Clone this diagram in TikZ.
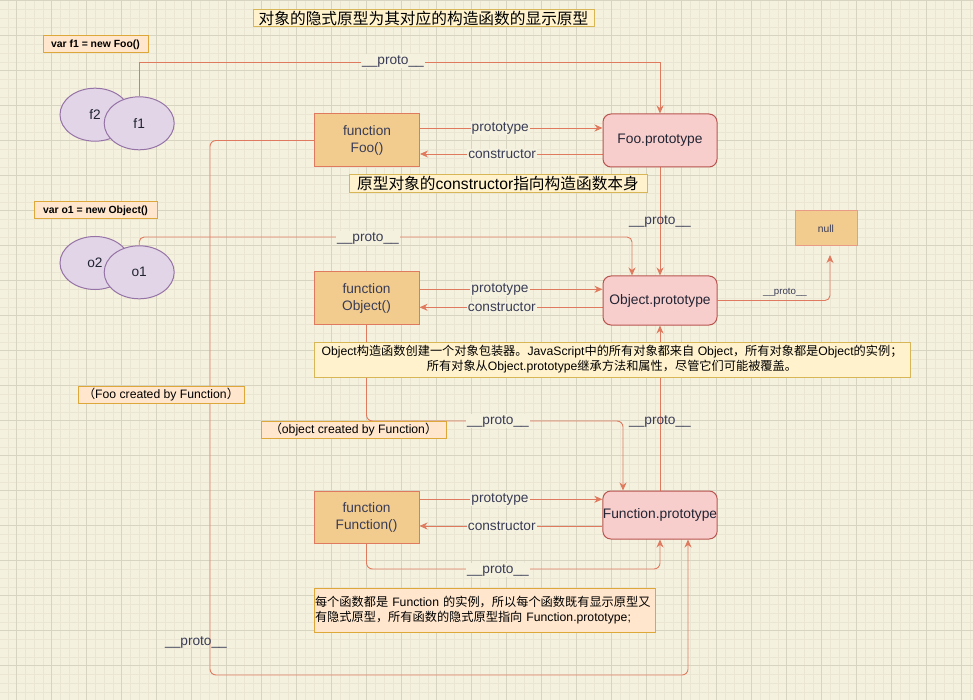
\documentclass[tikz,border=0pt]{standalone}
\usepackage{fontspec}
\setmainfont{Liberation Sans}
\newfontfamily\cjk{Noto Sans CJK SC}
\usetikzlibrary{arrows.meta,calc,shapes.geometric}
\definecolor{bg}{HTML}{F4F1DE}
\definecolor{gminor}{HTML}{EAE6D3}
\definecolor{gmajor}{HTML}{D8D4C2}
\definecolor{ln}{HTML}{E07A5F}
\definecolor{fnfill}{HTML}{F2CC8F}
\definecolor{pfill}{HTML}{F8CECC}
\definecolor{pdraw}{HTML}{B85450}
\definecolor{efill}{HTML}{E1D5E7}
\definecolor{edraw}{HTML}{9673A6}
\definecolor{yfill}{HTML}{FFF2CC}
\definecolor{ydraw}{HTML}{D6B656}
\definecolor{ofill}{HTML}{FFE6CC}
\definecolor{odraw}{HTML}{DDA73A}
\definecolor{txt}{HTML}{393C56}
\newcommand\zh[1]{{\cjk #1}}
\newcommand\fsz[2]{\fontsize{#1}{#2}\selectfont}
\pgfdeclarelayer{bgl}
\pgfdeclarelayer{edl}
\pgfsetlayers{bgl,edl,main}
\begin{document}
\begin{tikzpicture}[x=1pt,y=-1pt,
  edge/.style={draw=ln, line width=0.9pt, -{Stealth[length=8pt,width=7pt,inset=2.5pt]}},
  elab/.style={fill=bg, text=txt, font=\fsz{13.7}{16}, inner sep=1pt},
  elabnb/.style={text=txt, font=\fsz{13.7}{16}, inner sep=1pt},
  fnbox/.style={rectangle, draw=ln, fill=fnfill, line width=1pt, text=txt, align=center, font=\fsz{13.7}{17}, minimum width=105, minimum height=52, inner sep=0},
  pbox/.style={rectangle, rounded corners=8pt, draw=pdraw, fill=pfill, line width=1pt, text=txt!60!black, font=\fsz{13.8}{16}, minimum width=114, inner sep=0},
  inst/.style={ellipse, draw=edraw, fill=efill, line width=1pt, minimum width=70, minimum height=53, font=\fsz{13.7}{16}, text=txt!60!black, inner sep=0},
  ynote/.style={rectangle, draw=ydraw, fill=yfill, line width=1pt, inner sep=0, text=black},
  onote/.style={rectangle, draw=odraw, fill=ofill, line width=1pt, inner sep=0, text=black},
  nullbox/.style={rectangle, draw=ln!75, fill=fnfill, line width=1pt, text=txt, font=\fsz{10.3}{12}, minimum width=62, minimum height=35, inner sep=0}
]
\useasboundingbox (0,0) rectangle (973,700);
\begin{pgfonlayer}{bgl}
\fill[bg] (0,0) rectangle (973,700);
\foreach \i in {0,...,110} \draw[gminor, line width=0.6pt] ({7.95+8.75*\i},0) -- ++(0,700);
\foreach \i in {0,...,79} \draw[gminor, line width=0.6pt] (0,{0.7+8.75*\i}) -- ++(973,0);
\foreach \i in {0,...,27} \draw[gmajor, line width=0.8pt] ({16.7+35*\i},0) -- ++(0,700);
\foreach \i in {0,...,19} \draw[gmajor, line width=0.8pt] (0,{0.7+35*\i}) -- ++(973,0);
\end{pgfonlayer}

% nodes
\node[ynote, minimum width=341, minimum height=17, font=\cjk\fsz{15.7}{17}] (title) at (423.5,18.5) {对象的隐式原型为其对应的构造函数的显示原型};
\node[onote, minimum width=105, minimum height=17, font=\bfseries\fsz{10.4}{12}] (vf) at (95.5,44.5) {var f1 = new Foo()};
\node[inst] (f2) at (95,114.7) {f2};
\node[inst] (f1) at (139.2,123.3) {f1};
\node[fnbox, minimum height=53] (fnFoo) at (367,140.5) {function\\Foo()};
\node[pbox, minimum height=53] (fooP) at (660,140.5) {Foo.prototype};
\node[ynote, minimum width=298, minimum height=18, font=\fsz{15.7}{17}] (cnote) at (498,184) {\zh{原型对象的}constructor\zh{指向构造函数本身}};
\node[onote, minimum width=123, minimum height=17, font=\bfseries\fsz{10.4}{12}] (vo) at (95.5,210.5) {var o1 = new Object()};
\node[inst] (o2) at (95,263) {o2};
\node[inst] (o1) at (139.2,272.3) {o1};
\node[nullbox] (null) at (826,228.5) {null};
\node[fnbox] (fnObject) at (366.5,298) {function\\Object()};
\node[pbox, minimum height=49] (objP) at (660,300.5) {Object.prototype};
\node[ynote, minimum width=596, minimum height=35, align=center, font=\fsz{12.2}{15}] (oinfo) at (612,359.5) {Object\zh{构造函数创建一个对象包装器。}JavaScript\zh{中的所有对象都来自} Object\zh{，所有对象都是}Object\zh{的实例；}\\\zh{所有对象从}Object.prototype\zh{继承方法和属性，尽管它们可能被覆盖。}};
\node[onote, minimum width=166, minimum height=17, font=\fsz{12.2}{14}] (fcb) at (161,394.5) {\zh{（}Foo created by Function\zh{）}};
\node[onote, minimum width=185, minimum height=17, font=\fsz{12.2}{14}] (ocb) at (353.5,429.5) {\zh{（}object created by Function\zh{）}};
\node[fnbox] (fnFunction) at (366.5,517) {function\\Function()};
\node[pbox, minimum height=48] (funP) at (660,515) {Function.prototype};
\node[onote, minimum width=341, minimum height=44, text width=339, align=left, font=\fsz{12.2}{15.5}] (finfo) at (484.5,610) {\zh{每个函数都是} Function \zh{的实例，所以每个函数既有显示原型又}\\\zh{有隐式原型，所有函数的隐式原型指向} Function.prototype;};

\coordinate (nullin) at (830,255);
\coordinate (opA) at ([xshift=-28pt]objP.north);
\coordinate (fpA) at ([xshift=-37pt]funP.north);
\coordinate (fpB) at ([xshift=28pt]funP.south);

\begin{pgfonlayer}{edl}
% f1 -> Foo.prototype
\draw[edge] (f1.north) |- (fooP.north |- 0,62) -- (fooP.north);
\node[elab] (l1) at (393,61) {\_\_proto\_\_};
% Foo
\draw[edge] (fnFoo.east |- 0,128) -- (fooP.west |- 0,128) node[elab, pos=0.44] {prototype};
\draw[edge] (fooP.west |- 0,154) -- (fnFoo.east |- 0,154) node[elab, pos=0.55] {constructor};
% Foo -> Function.prototype
\draw[edge, rounded corners=6pt] (fnFoo.west) -| (210,675) -| (fpB);
\node[elabnb] (l4) at (196,642) {\_\_proto\_\_};
% Foo.prototype -> Object.prototype
\draw[edge] (fooP.south) -- (objP.north);
\node[elabnb] (l5) at (660,221) {\_\_proto\_\_};
% o1 -> Object.prototype
\draw[edge, rounded corners=5pt] (o1.north) |- (opA |- 0,237) -- (opA);
\node[elab] (l6) at (368,238) {\_\_proto\_\_};
% Object
\draw[edge] (fnObject.east |- 0,289.3) -- (objP.west |- 0,289.3) node[elab, pos=0.44] {prototype};
\draw[edge] (objP.west |- 0,307.3) -- (fnObject.east |- 0,307.3) node[elab, pos=0.55] {constructor};
% Object.prototype -> null
\draw[edge, rounded corners=5pt] (objP.east) -| (nullin);
\node[text=txt, font=\fsz{9.7}{11}, inner sep=0] (l9) at (785,292) {\_\_proto\_\_};
% Function.prototype -> Object.prototype
\draw[edge] (funP.north) -- (objP.south);
\node[elabnb] (l10) at (660,421) {\_\_proto\_\_};
% Object -> Function.prototype
\draw[edge, rounded corners=6pt] (fnObject.south) |- (fpA |- 0,421) -- (fpA);
\node[elab] (l11) at (498,421) {\_\_proto\_\_};
% Function
\draw[edge] (fnFunction.east |- 0,499.3) -- (funP.west |- 0,499.3) node[elab, pos=0.44] {prototype};
\draw[edge] (funP.west |- 0,526) -- (fnFunction.east |- 0,526) node[elab, pos=0.55] {constructor};
% Function -> Function.prototype
\draw[edge, rounded corners=6pt] (fnFunction.south) |- (funP.south |- 0,569) -- (funP.south);
\node[elab] (l14) at (498,570) {\_\_proto\_\_};
\end{pgfonlayer}
\end{tikzpicture}
\end{document}
